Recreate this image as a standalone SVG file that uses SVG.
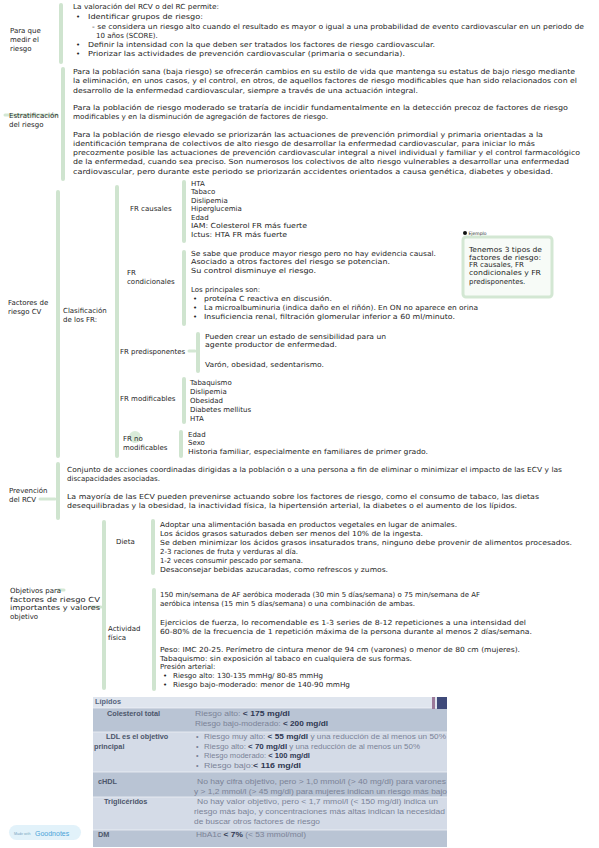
<svg xmlns="http://www.w3.org/2000/svg" width="599" height="848" viewBox="0 0 599 848">
<style>
.t{font-family:"DejaVu Sans","Liberation Sans",sans-serif;font-size:7px;fill:#1e1e1e;}
.bar{fill:#cfe4cf;}
.mk{stroke:#d3e7d3;stroke-width:3;stroke-linecap:round;fill:none;}
.tb{font-family:"Liberation Sans",Arial,sans-serif;font-size:7.3px;fill:#7b8397;}
.tl{font-family:"Liberation Sans",Arial,sans-serif;font-size:7.3px;font-weight:bold;fill:#4c566b;}
.b{font-weight:bold;fill:#2f3852;}
</style>
<rect width="599" height="848" fill="#ffffff"/>

<g id="connectors">
  <rect class="bar" x="59" y="3" width="4" height="61" rx="2"/>
  <rect class="bar" x="61" y="67" width="4" height="114" rx="2"/>
  <line class="mk" x1="5" y1="115" x2="57" y2="115"/>
  <rect class="bar" x="56" y="190" width="4" height="268" rx="2"/>
  <rect class="bar" x="115" y="185" width="4" height="273" rx="2"/>
  <rect class="bar" x="182" y="180" width="4" height="63" rx="2"/>
  <rect class="bar" x="182" y="250" width="4" height="76" rx="2"/>
  <line class="mk" x1="189" y1="351" x2="195" y2="351"/>
  <rect class="bar" x="196" y="332" width="4" height="41" rx="2"/>
  <rect class="bar" x="182" y="377" width="4" height="47" rx="2"/>
  <circle cx="135" cy="437" r="6" fill="#d9ebd9"/>
  <rect class="bar" x="179" y="430" width="4" height="28" rx="2"/>
  <line class="mk" x1="40" y1="499" x2="55" y2="499"/>
  <rect class="bar" x="56" y="462" width="4" height="58" rx="2"/>
  <line class="mk" x1="58" y1="590" x2="64" y2="590"/>
  <line class="mk" x1="90" y1="607" x2="101" y2="607"/>
  <rect class="bar" x="102" y="520" width="4" height="170" rx="2"/>
  <rect class="bar" x="151" y="519" width="4" height="56" rx="2"/>
  <rect class="bar" x="152" y="588" width="4" height="103" rx="2"/>
</g>

<g id="para-que">
  <text class="t" x="10" y="32.5">Para que</text>
  <text class="t" x="10" y="41.5">medir el</text>
  <text class="t" x="10" y="50.5">riesgo</text>
</g>
<g id="para-que-texto">
  <text class="t" x="73" y="9" textLength="146" lengthAdjust="spacingAndGlyphs">La valoración del RCV o del RC permite:</text>
  <text class="t" x="76" y="19">•</text>
  <text class="t" x="88" y="19" textLength="115" lengthAdjust="spacingAndGlyphs">Identificar grupos de riesgo:</text>
  <text class="t" x="92" y="29" textLength="492" lengthAdjust="spacingAndGlyphs">- se considera un riesgo alto cuando el resultado es mayor o igual a una probabilidad de evento cardiovascular en un periodo de</text>
  <text class="t" x="96" y="38">10 años (SCORE).</text>
  <text class="t" x="76" y="47">•</text>
  <text class="t" x="88" y="47" textLength="347" lengthAdjust="spacingAndGlyphs">Definir la intensidad con la que deben ser tratados los factores de riesgo cardiovascular.</text>
  <text class="t" x="76" y="56">•</text>
  <text class="t" x="88" y="56" textLength="317" lengthAdjust="spacingAndGlyphs">Priorizar las actividades de prevención cardiovascular (primaria o secundaria).</text>
</g>

<g id="estratificacion">
  <text class="t" x="9" y="117.5">Estratificación</text>
  <text class="t" x="9" y="126.5">del riesgo</text>
</g>
<g id="estratificacion-texto">
  <text class="t" x="73" y="73.5" textLength="502" lengthAdjust="spacingAndGlyphs">Para la población sana (baja riesgo) se ofrecerán cambios en su estilo de vida que mantenga su estatus de bajo riesgo mediante</text>
  <text class="t" x="73" y="83" textLength="504" lengthAdjust="spacingAndGlyphs">la eliminación, en unos casos, y el control, en otros, de aquellos factores de riesgo modificables que han sido relacionados con el</text>
  <text class="t" x="73" y="92.5" textLength="345" lengthAdjust="spacingAndGlyphs">desarrollo de la enfermedad cardiovascular, siempre a través de una actuación integral.</text>
  <text class="t" x="73" y="110" textLength="495" lengthAdjust="spacingAndGlyphs">Para la población de riesgo moderado se trataría de incidir fundamentalmente en la detección precoz de factores de riesgo</text>
  <text class="t" x="73" y="119" textLength="255" lengthAdjust="spacingAndGlyphs">modificables y en la disminución de agregación de factores de riesgo.</text>
  <text class="t" x="73" y="137" textLength="470" lengthAdjust="spacingAndGlyphs">Para la población de riesgo elevado se priorizarán las actuaciones de prevención primordial y primaria orientadas a la</text>
  <text class="t" x="73" y="146" textLength="462" lengthAdjust="spacingAndGlyphs">identificación temprana de colectivos de alto riesgo de desarrollar la enfermedad cardiovascular, para iniciar lo más</text>
  <text class="t" x="73" y="155" textLength="507" lengthAdjust="spacingAndGlyphs">precozmente posible las actuaciones de prevención cardiovascular integral a nivel individual y familiar y el control farmacológico</text>
  <text class="t" x="73" y="164" textLength="496" lengthAdjust="spacingAndGlyphs">de la enfermedad, cuando sea preciso. Son numerosos los colectivos de alto riesgo vulnerables a desarrollar una enfermedad</text>
  <text class="t" x="73" y="173.5" textLength="480" lengthAdjust="spacingAndGlyphs">cardiovascular, pero durante este periodo se priorizarán accidentes orientados a causa genética, diabetes y obesidad.</text>
</g>

<g id="factores">
  <text class="t" x="8" y="304.5">Factores de</text>
  <text class="t" x="8" y="313.5">riesgo CV</text>
</g>
<g id="clasificacion">
  <text class="t" x="63" y="312.5">Clasificación</text>
  <text class="t" x="63" y="321.5">de los FR:</text>
</g>
<g id="fr-causales">
  <text class="t" x="130" y="210.5">FR causales</text>
  <text class="t" x="191" y="185.5">HTA</text>
  <text class="t" x="191" y="194">Tabaco</text>
  <text class="t" x="191" y="202.5">Dislipemia</text>
  <text class="t" x="191" y="211">Hiperglucemia</text>
  <text class="t" x="191" y="219.5">Edad</text>
  <text class="t" x="191" y="228" textLength="116" lengthAdjust="spacingAndGlyphs">IAM: Colesterol FR más fuerte</text>
  <text class="t" x="191" y="236.5" textLength="96" lengthAdjust="spacingAndGlyphs">Ictus: HTA FR más fuerte</text>
</g>
<g id="fr-condicionales">
  <text class="t" x="127" y="274.5">FR</text>
  <text class="t" x="127" y="283.5">condicionales</text>
  <text class="t" x="191" y="255.5" textLength="245" lengthAdjust="spacingAndGlyphs">Se sabe que produce mayor riesgo pero no hay evidencia causal.</text>
  <text class="t" x="191" y="264" textLength="199" lengthAdjust="spacingAndGlyphs">Asociado a otros factores del riesgo se potencian.</text>
  <text class="t" x="191" y="272.5" textLength="125" lengthAdjust="spacingAndGlyphs">Su control disminuye el riesgo.</text>
  <text class="t" x="191" y="291.5">Los principales son:</text>
  <text class="t" x="193" y="300.5">•</text>
  <text class="t" x="204" y="300.5" textLength="128" lengthAdjust="spacingAndGlyphs">proteína C reactiva en discusión.</text>
  <text class="t" x="193" y="309.5">•</text>
  <text class="t" x="204" y="309.5" textLength="274" lengthAdjust="spacingAndGlyphs">La microalbuminuria (indica daño en el riñón). En ON no aparece en orina</text>
  <text class="t" x="193" y="318.5">•</text>
  <text class="t" x="204" y="318.5" textLength="251" lengthAdjust="spacingAndGlyphs">Insuficiencia renal, filtración glomerular inferior a 60 ml/minuto.</text>
</g>
<g id="fr-predisponentes">
  <text class="t" x="120" y="353.5">FR predisponentes</text>
  <text class="t" x="205" y="338.5" textLength="181" lengthAdjust="spacingAndGlyphs">Pueden crear un estado de sensibilidad para un</text>
  <text class="t" x="205" y="347" textLength="132" lengthAdjust="spacingAndGlyphs">agente productor de enfermedad.</text>
  <text class="t" x="205" y="366.5" textLength="119" lengthAdjust="spacingAndGlyphs">Varón, obesidad, sedentarismo.</text>
</g>
<g id="fr-modificables">
  <text class="t" x="120" y="400.5">FR modificables</text>
  <text class="t" x="190" y="384.5">Tabaquismo</text>
  <text class="t" x="190" y="393.5">Dislipemia</text>
  <text class="t" x="190" y="402.5">Obesidad</text>
  <text class="t" x="190" y="411.5">Diabetes mellitus</text>
  <text class="t" x="190" y="420.5">HTA</text>
</g>
<g id="fr-no-modificables">
  <text class="t" x="123" y="440.5">FR no</text>
  <text class="t" x="123" y="449.5">modificables</text>
  <text class="t" x="188" y="436.5">Edad</text>
  <text class="t" x="188" y="445">Sexo</text>
  <text class="t" x="188" y="454" textLength="240" lengthAdjust="spacingAndGlyphs">Historia familiar, especialmente en familiares de primer grado.</text>
</g>
<g id="ejemplo">
  <circle cx="465" cy="233" r="2" fill="#111"/>
  <text class="t" x="468.5" y="235" style="font-size:4.5px">Ejemplo</text>
  <rect x="463" y="237" width="89" height="60" rx="3" fill="#f7fbf7" stroke="#d3e7d3" stroke-width="3"/>
  <text class="t" x="469" y="251.5" textLength="73" lengthAdjust="spacingAndGlyphs">Tenemos 3 tipos de</text>
  <text class="t" x="469" y="259.5" textLength="72" lengthAdjust="spacingAndGlyphs">factores de riesgo:</text>
  <text class="t" x="469" y="267">FR causales, FR</text>
  <text class="t" x="469" y="275" textLength="72" lengthAdjust="spacingAndGlyphs">condicionales y FR</text>
  <text class="t" x="469" y="283.5">predisponentes.</text>
</g>

<g id="prevencion">
  <text class="t" x="9" y="492.5">Prevención</text>
  <text class="t" x="9" y="501.5">del RCV</text>
</g>
<g id="prevencion-texto">
  <text class="t" x="67" y="471.5" textLength="495" lengthAdjust="spacingAndGlyphs">Conjunto de acciones coordinadas dirigidas a la población o a una persona a fin de eliminar o minimizar el impacto de las ECV y las</text>
  <text class="t" x="67" y="480.5">discapacidades asociadas.</text>
  <text class="t" x="67" y="498.5" textLength="472" lengthAdjust="spacingAndGlyphs">La mayoría de las ECV pueden prevenirse actuando sobre los factores de riesgo, como el consumo de tabaco, las dietas</text>
  <text class="t" x="67" y="507.5" textLength="450" lengthAdjust="spacingAndGlyphs">desequilibradas y la obesidad, la inactividad física, la hipertensión arterial, la diabetes o el aumento de los lípidos.</text>
</g>

<g id="objetivos">
  <text class="t" x="10" y="592.5">Objetivos para</text>
  <text class="t" x="10" y="601.5" textLength="90" lengthAdjust="spacingAndGlyphs">factores de riesgo CV</text>
  <text class="t" x="10" y="610" textLength="90" lengthAdjust="spacingAndGlyphs">importantes y valores</text>
  <text class="t" x="10" y="619">objetivo</text>
</g>
<g id="dieta">
  <text class="t" x="116" y="543.5">Dieta</text>
  <text class="t" x="160" y="526.5" textLength="297" lengthAdjust="spacingAndGlyphs">Adoptar una alimentación basada en productos vegetales en lugar de animales.</text>
  <text class="t" x="160" y="535.5" textLength="263" lengthAdjust="spacingAndGlyphs">Los ácidos grasos saturados deben ser menos del 10% de la ingesta.</text>
  <text class="t" x="160" y="544.5" textLength="412" lengthAdjust="spacingAndGlyphs">Se deben minimizar los ácidos grasos insaturados trans, ninguno debe provenir de alimentos procesados.</text>
  <text class="t" x="160" y="553.5" textLength="138" lengthAdjust="spacingAndGlyphs">2-3 raciones de fruta y verduras al día.</text>
  <text class="t" x="160" y="562.5" textLength="143" lengthAdjust="spacingAndGlyphs">1-2 veces consumir pescado por semana.</text>
  <text class="t" x="160" y="571.5" textLength="228" lengthAdjust="spacingAndGlyphs">Desaconsejar bebidas azucaradas, como refrescos y zumos.</text>
</g>
<g id="actividad-fisica">
  <text class="t" x="108" y="630.5">Actividad</text>
  <text class="t" x="108" y="639.5">física</text>
  <text class="t" x="160" y="596.5" textLength="320" lengthAdjust="spacingAndGlyphs">150 min/semana de AF aeróbica moderada (30 min 5 días/semana) o 75 min/semana de AF</text>
  <text class="t" x="160" y="605.5" textLength="255" lengthAdjust="spacingAndGlyphs">aeróbica intensa (15 min 5 días/semana) o una combinación de ambas.</text>
  <text class="t" x="160" y="624.5" textLength="366" lengthAdjust="spacingAndGlyphs">Ejercicios de fuerza, lo recomendable es 1-3 series de 8-12 repeticiones a una intensidad del</text>
  <text class="t" x="160" y="633.5" textLength="372" lengthAdjust="spacingAndGlyphs">60-80% de la frecuencia de 1 repetición máxima de la persona durante al menos 2 días/semana.</text>
  <text class="t" x="160" y="651.5" textLength="360" lengthAdjust="spacingAndGlyphs">Peso: IMC 20-25. Perímetro de cintura menor de 94 cm (varones) o menor de 80 cm (mujeres).</text>
  <text class="t" x="160" y="660.5" textLength="252" lengthAdjust="spacingAndGlyphs">Tabaquismo: sin exposición al tabaco en cualquiera de sus formas.</text>
  <text class="t" x="160" y="668.5">Presión arterial:</text>
  <text class="t" x="163" y="677.5">•</text>
  <text class="t" x="173" y="677.5" textLength="150" lengthAdjust="spacingAndGlyphs">Riesgo alto: 130-135 mmHg/ 80-85 mmHg</text>
  <text class="t" x="163" y="686.5">•</text>
  <text class="t" x="173" y="686.5" textLength="177" lengthAdjust="spacingAndGlyphs">Riesgo bajo-moderado: menor de 140-90 mmHg</text>
</g>

<g id="tabla-lipidos">
  <rect x="93" y="697" width="354" height="11" fill="#dfe5ee"/>
  <rect x="93" y="708" width="354" height="24" fill="#b9c4d4"/>
  <rect x="93" y="732" width="354" height="40" fill="#d4dbe7"/>
  <rect x="93" y="772" width="354" height="25" fill="#b9c4d4"/>
  <rect x="93" y="797" width="354" height="33" fill="#d4dbe7"/>
  <rect x="93" y="830" width="354" height="17" fill="#b9c4d4"/>
  <g stroke="#eef1f6" stroke-width="0.8">
    <line x1="93" y1="708" x2="447" y2="708"/>
    <line x1="93" y1="732" x2="447" y2="732"/>
    <line x1="93" y1="772" x2="447" y2="772"/>
    <line x1="93" y1="797" x2="447" y2="797"/>
    <line x1="93" y1="830" x2="447" y2="830"/>
  </g>
  <rect x="432" y="697" width="3" height="12" fill="#9c7a9a"/>
  <rect x="437" y="697" width="10" height="12" fill="#3f4a7a"/>
  <text class="tl" x="95" y="704" style="fill:#56647d">Lípidos</text>
  <text class="tl" x="107" y="715.5">Colesterol total</text>
  <text class="tb" x="195" y="715.5" textLength="95" lengthAdjust="spacingAndGlyphs">Riesgo  alto: <tspan class="b">&lt; 175 mg/dl</tspan></text>
  <text class="tb" x="195" y="725.5" textLength="133" lengthAdjust="spacingAndGlyphs">Riesgo bajo-moderado: <tspan class="b">&lt; 200 mg/dl</tspan></text>
  <text class="tl" x="106" y="738.5">LDL es el objetivo</text>
  <text class="tl" x="94" y="748.5">principal</text>
  <text class="tb" x="196" y="738.5">•</text>
  <text class="tb" x="204" y="738.5" textLength="242" lengthAdjust="spacingAndGlyphs">Riesgo muy alto: <tspan class="b">&lt; 55 mg/dl</tspan> y una reducción de al menos un 50%</text>
  <text class="tb" x="196" y="748.5">•</text>
  <text class="tb" x="204" y="748.5" textLength="216" lengthAdjust="spacingAndGlyphs">Riesgo alto: <tspan class="b">&lt; 70 mg/dl</tspan>  y una reducción de al menos un 50%</text>
  <text class="tb" x="196" y="758">•</text>
  <text class="tb" x="204" y="758" textLength="106" lengthAdjust="spacingAndGlyphs">Riesgo moderado: <tspan class="b">&lt; 100 mg/dl</tspan></text>
  <text class="tb" x="196" y="767.5">•</text>
  <text class="tb" x="204" y="767.5" textLength="97" lengthAdjust="spacingAndGlyphs">Riesgo bajo:<tspan class="b">&lt; 116 mg/dl</tspan></text>
  <text class="tl" x="98" y="783.5">cHDL</text>
  <text class="tb" x="197" y="783.5" textLength="249" lengthAdjust="spacingAndGlyphs">No hay cifra objetivo, pero &gt; 1,0 mmol/l (&gt; 40 mg/dl) para varones</text>
  <text class="tb" x="194" y="793.5" textLength="253" lengthAdjust="spacingAndGlyphs">y &gt; 1,2 mmol/l (&gt; 45 mg/dl) para mujeres indican un riesgo más bajo</text>
  <text class="tl" x="104" y="803.5">Triglicéridos</text>
  <text class="tb" x="197" y="803.5" textLength="241" lengthAdjust="spacingAndGlyphs">No hay valor objetivo, pero &lt; 1,7 mmol/l (&lt; 150 mg/dl) indica un</text>
  <text class="tb" x="194" y="813.5" textLength="251" lengthAdjust="spacingAndGlyphs">riesgo más bajo, y concentraciones más altas indican la necesidad</text>
  <text class="tb" x="194" y="823.5" textLength="126" lengthAdjust="spacingAndGlyphs">de buscar otros factores de riesgo</text>
  <text class="tl" x="98" y="836.5">DM</text>
  <text class="tb" x="196" y="836.5" textLength="110" lengthAdjust="spacingAndGlyphs">HbA1c <tspan class="b">&lt; 7%</tspan> (&lt; 53 mmol/mol)</text>
</g>

<g id="goodnotes">
  <rect x="9" y="825" width="72" height="15" rx="7.5" fill="#e2f2fa"/>
  <text x="14" y="834.5" style="font-family:'Liberation Sans',sans-serif;font-size:3.6px;fill:#7aa7c0">Made with</text>
  <text x="35" y="835.5" style="font-family:'Liberation Sans',sans-serif;font-size:7px;fill:#4aa3d8">Goodnotes</text>
</g>
</svg>
